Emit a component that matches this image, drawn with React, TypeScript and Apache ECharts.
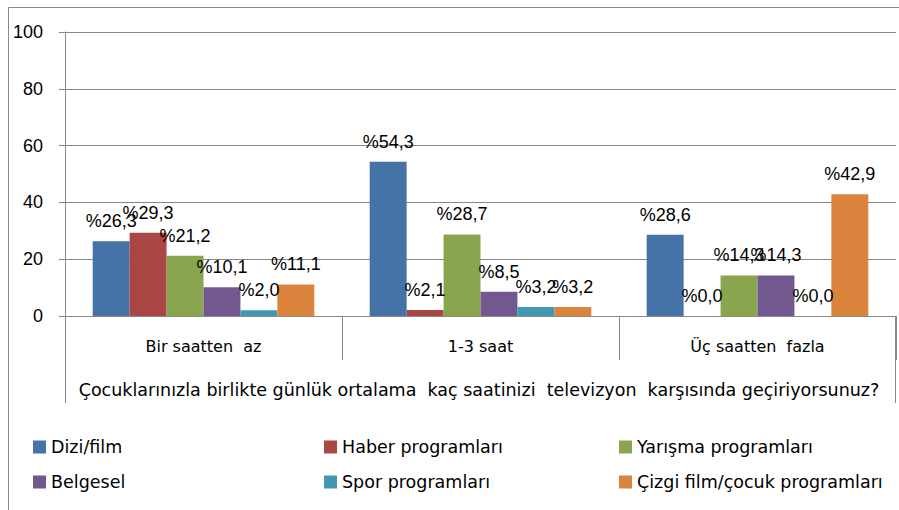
import React, { useEffect, useRef } from "react";
import * as echarts from "echarts";

const categories = ["Bir saatten  az", "1-3 saat", "Üç saatten  fazla"];
const seriesNames = [
  "Dizi/film",
  "Haber programları",
  "Yarışma programları",
  "Belgesel",
  "Spor programları",
  "Çizgi film/çocuk programları",
];
const dizi = [26.3, 54.3, 28.6];
const haber = [29.3, 2.1, 0.0];
const yarisma = [21.2, 28.7, 14.3];
const belgesel = [10.1, 8.5, 14.3];
const spor = [2.0, 3.2, 0.0];
const cizgi = [11.1, 3.2, 42.9];
const seriesValues = [dizi, haber, yarisma, belgesel, spor, cizgi];
const colors = ["#4572A7", "#AA4643", "#89A54E", "#71588F", "#4198AF", "#DB843D"];
const yTicks = [0, 20, 40, 60, 80, 100];
const axisTitle =
  "Çocuklarınızla birlikte günlük ortalama  kaç saatinizi  televizyon  karşısında geçiriyorsunuz?";

const FONT = "'Liberation Sans', Arial, sans-serif";
const WIDE = "'DejaVu Sans', sans-serif";
const GREY = "#878787";

export default function App() {
  const ref = useRef<HTMLDivElement>(null);
  useEffect(() => {
    if (!ref.current) return;
    const chart = echarts.init(ref.current, null, { renderer: "svg" });
    const legendCol = (names: string[], left: number) => ({
      orient: "vertical" as const,
      left,
      top: 437,
      padding: 0,
      itemWidth: 13,
      itemHeight: 13,
      itemGap: 15,
      icon: "rect",
      data: names,
      textStyle: { fontFamily: WIDE, fontSize: 17.5, lineHeight: 20, color: "#000" },
    });
    chart.setOption({
      animation: false,
      textStyle: { fontFamily: FONT },
      color: colors,
      grid: { left: 65, right: 3, top: 32, bottom: 194, containLabel: false },
      legend: [
        legendCol([seriesNames[0], seriesNames[3]], 33),
        legendCol([seriesNames[1], seriesNames[4]], 324),
        legendCol([seriesNames[2], seriesNames[5]], 619),
      ],
      xAxis: {
        type: "category",
        data: categories,
        axisLine: { show: true, lineStyle: { color: GREY, width: 1 } },
        axisTick: { show: true, length: 44, lineStyle: { color: GREY } },
        axisLabel: { fontFamily: WIDE, fontSize: 16, color: "#000", margin: 22 },
      },
      yAxis: {
        type: "value",
        min: 0,
        max: 100,
        interval: 20,
        axisLine: { show: true, lineStyle: { color: GREY } },
        axisTick: { show: true, length: 6, lineStyle: { color: GREY } },
        splitLine: { show: true, lineStyle: { color: GREY, width: 1 } },
        axisLabel: {
          fontFamily: FONT,
          fontSize: 18,
          color: "#000",
          margin: 22,
          formatter: (v: number) => (yTicks.includes(v) ? String(v) : ""),
        },
      },
      series: seriesValues.map((vals, i) => ({
        name: seriesNames[i],
        type: "bar",
        data: vals,
        barGap: "0%",
        barCategoryGap: "20%",
        itemStyle: { color: colors[i] },
        label: {
          show: true,
          position: "top",
          distance: 11,
          fontFamily: FONT,
          fontSize: 18,
          color: "#000",
          formatter: (p: any) => "%" + Number(p.value).toFixed(1).replace(".", ","),
        },
      })),
      graphic: [
        {
          type: "rect",
          shape: { x: 8.5, y: 7.5, width: 1000, height: 1000 },
          style: { fill: "none", stroke: GREY, lineWidth: 1 },
          silent: true,
        },
        {
          type: "line",
          shape: { x1: 65.5, y1: 316, x2: 65.5, y2: 403 },
          style: { stroke: GREY, lineWidth: 1 },
        },
        {
          type: "line",
          shape: { x1: 895.5, y1: 316, x2: 895.5, y2: 403 },
          style: { stroke: GREY, lineWidth: 1 },
        },
        {
          type: "text",
          x: 479,
          y: 390,
          style: {
            text: axisTitle,
            fontFamily: WIDE,
            fontSize: 17.5,
            fill: "#000",
            align: "center",
            verticalAlign: "middle",
          },
        },
      ],
    });
    return () => chart.dispose();
  }, []);
  return (
    <div
      ref={ref}
      style={{ position: "absolute", left: 0, top: 0, width: 899, height: 510, background: "#fff" }}
    />
  );
}
